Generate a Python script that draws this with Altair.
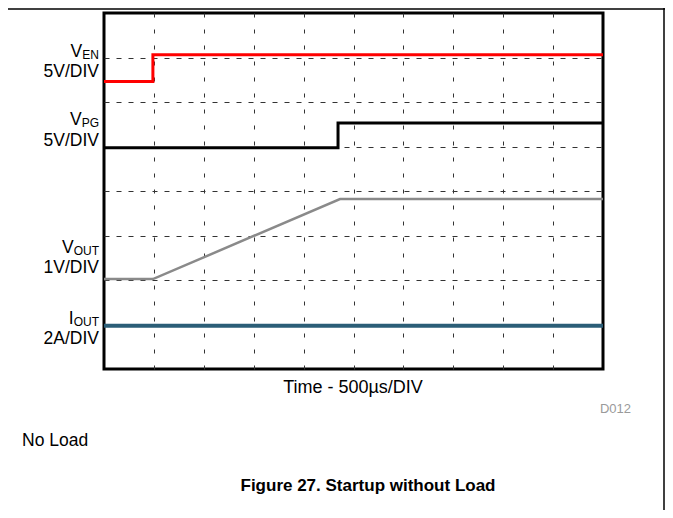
import altair as alt
import pandas as pd

# Time in divisions (500 µs/DIV, 10 divisions); level in screen divisions (8 divisions)
ven_t = [0, 0.98, 0.98, 10]
ven_v = [6.46, 6.46, 7.06, 7.06]
vpg_t = [0, 4.69, 4.69, 10]
vpg_v = [4.97, 4.97, 5.53, 5.53]
vout_t = [0, 0.98, 4.73, 10]
vout_v = [2.02, 2.02, 3.82, 3.82]
iout_t = [0, 10]
iout_v = [0.97, 0.97]

x_grid = [1, 2, 3, 4, 5, 6, 7, 8, 9]
y_grid = [1, 2, 3, 4, 5, 6, 7]

FONT = "Liberation Sans"

X = alt.X("t:Q", scale=alt.Scale(domain=[0, 10], nice=False, zero=False),
          axis=alt.Axis(values=x_grid, grid=True, gridDash=[4, 12], gridColor="#333333",
                        gridWidth=1, labels=False, ticks=False, domain=False, title=None))
Y = alt.Y("v:Q", scale=alt.Scale(domain=[0, 8], nice=False, zero=False),
          axis=alt.Axis(values=y_grid, grid=True, gridDash=[5, 7], gridColor="#333333",
                        gridWidth=1, labels=False, ticks=False, domain=False, title=None))


def trace(t, v, color, width):
    df = pd.DataFrame({"t": t, "v": v, "o": list(range(len(t)))})
    return alt.Chart(df).mark_line(color=color, strokeWidth=width).encode(
        x=X, y=Y, order="o:Q")


def label(text, x, y, size=17.5, align="right", weight="normal", color="black"):
    return alt.Chart(pd.DataFrame({"a": [0]})).mark_text(
        text=text, align=align, baseline="alphabetic", font=FONT, fontSize=size,
        fontWeight=weight, color=color).encode(x=alt.value(x), y=alt.value(y))


def channel_label(main, sub, unit, y_main, y_unit, sub_w):
    return [
        label(sub, -5, y_main + 2, size=12),
        label(main, -5 - sub_w, y_main),
        label(unit, -5, y_unit),
    ]


layers = [
    trace(iout_t, iout_v, "#2b5e77", 4),
    trace(vout_t, vout_v, "#8a8a8a", 2.5),
    trace(vpg_t, vpg_v, "#000000", 3),
    trace(ven_t, ven_v, "#ff0000", 3),
]
layers += channel_label("V", "EN", "5V/DIV", 44, 64, 16.7)
layers += channel_label("V", "PG", "5V/DIV", 112, 133, 17.4)
layers += channel_label("V", "OUT", "1V/DIV", 240, 260, 25.4)
layers += channel_label("I", "OUT", "2A/DIV", 311, 331, 25.4)
layers += [
    label("Time - 500µs/DIV", 249, 380, size=18, align="center"),
    label("D012", 527, 400, size=13, color="#9a9a9a"),
    label("No Load", -82, 433, align="left"),
    label("Figure 27. Startup without Load", 264, 478, size=17, align="center", weight="bold"),
    alt.Chart(pd.DataFrame({"a": [0]})).mark_rule(color="black", strokeWidth=1.5).encode(
        x=alt.value(-96), x2=alt.value(561), y=alt.value(-4)),
    alt.Chart(pd.DataFrame({"a": [0]})).mark_rule(color="black", strokeWidth=1.5).encode(
        x=alt.value(560), y=alt.value(-5), y2=alt.value(497)),
]

chart = alt.layer(*layers).properties(
    width=499, height=356,
    padding={"left": 96, "top": 5, "right": 62, "bottom": 141},
    autosize=alt.AutoSizeParams(type="none"),
).configure_view(stroke="black", strokeWidth=3)

chart.save("out.html", embed_options={"renderer": "svg", "actions": False})
